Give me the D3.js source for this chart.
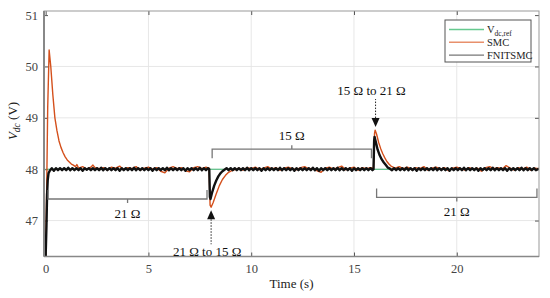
<!DOCTYPE html>
<html>
<head>
<meta charset="utf-8">
<script src="https://cdn.jsdelivr.net/npm/d3@7"></script>
<style>
  body { margin: 0; background: #fff; }
  svg text { font-family: "Liberation Serif", "DejaVu Serif", serif; }
</style>
</head>
<body>
<div id="chart"></div>
<script>
// data: [time (s), Vdc (V)]
var refData = [[0, 48], [24, 48]];

var smcData = [
  [0.00, 46.30], [0.05, 47.60], [0.10, 49.20], [0.17, 50.32], [0.25, 50.00], [0.35, 49.45],
  [0.45, 49.00], [0.55, 48.75], [0.65, 48.55], [0.75, 48.42], [0.85, 48.32], [0.95, 48.24],
  [1.05, 48.18], [1.15, 48.14], [1.25, 48.10], [1.35, 48.08], [1.45, 48.05], [1.52, 48.09],
  [1.60, 48.02], [1.80, 48.05], [2.00, 48.00], [2.20, 48.04], [2.30, 48.08], [2.40, 48.03],
  [2.60, 48.01], [2.80, 48.03], [3.00, 47.98], [3.20, 48.04], [3.40, 48.02], [3.60, 48.06],
  [3.80, 47.99], [4.00, 48.03], [4.20, 48.01], [4.40, 48.05], [4.60, 47.98], [4.80, 48.02],
  [5.00, 48.04], [5.20, 48.00], [5.40, 48.03], [5.60, 47.96], [5.80, 47.93], [6.00, 48.02],
  [6.20, 48.05], [6.40, 48.01], [6.60, 48.03], [6.80, 47.97], [7.00, 47.95], [7.20, 48.03],
  [7.40, 48.05], [7.60, 48.01], [7.80, 48.04], [7.95, 48.02],
  [8.00, 47.30], [8.05, 47.26], [8.15, 47.35], [8.30, 47.52], [8.45, 47.68], [8.60, 47.80],
  [8.75, 47.88], [8.90, 47.94], [9.05, 47.97], [9.20, 47.99], [9.40, 48.02], [9.60, 47.98],
  [9.80, 48.03], [10.0, 48.01], [10.2, 48.04], [10.4, 47.99], [10.6, 48.02], [10.8, 48.05],
  [11.0, 48.00], [11.2, 48.03], [11.4, 47.98], [11.6, 48.02], [11.8, 48.04], [12.0, 48.01],
  [12.2, 47.99], [12.4, 48.03], [12.6, 48.05], [12.8, 48.00], [13.0, 48.02], [13.2, 47.97],
  [13.4, 47.94], [13.6, 48.02], [13.8, 48.04], [14.0, 48.00], [14.2, 48.03], [14.4, 48.06],
  [14.6, 47.99], [14.8, 48.02], [15.0, 48.04], [15.2, 47.98], [15.4, 48.03], [15.6, 48.01],
  [15.8, 48.03], [15.95, 48.02],
  [16.00, 48.70], [16.03, 48.76], [16.10, 48.68], [16.20, 48.52], [16.30, 48.40], [16.40, 48.30],
  [16.50, 48.22], [16.60, 48.15], [16.70, 48.10], [16.80, 48.06], [16.90, 48.04], [17.00, 48.02],
  [17.2, 48.05], [17.4, 48.01], [17.6, 48.04], [17.8, 47.99], [18.0, 48.03], [18.2, 48.01],
  [18.4, 48.05], [18.6, 47.98], [18.8, 48.02], [19.0, 48.04], [19.2, 48.00], [19.4, 48.03],
  [19.6, 47.97], [19.8, 48.02], [20.0, 48.04], [20.2, 48.01], [20.4, 47.98], [20.6, 48.03],
  [20.8, 48.00], [21.0, 48.02], [21.2, 47.96], [21.4, 48.03], [21.6, 48.05], [21.8, 48.01],
  [22.0, 48.03], [22.2, 48.00], [22.4, 48.07], [22.6, 48.02], [22.8, 47.98], [23.0, 48.03],
  [23.2, 48.00], [23.4, 48.04], [23.6, 47.98], [23.8, 48.02], [24.0, 48.01]
];

var fnitsmcData = [
  [0.00, 46.30], [0.04, 46.90], [0.07, 47.50], [0.10, 47.78], [0.14, 47.92], [0.20, 47.97],
  [0.30, 48.02], [0.40, 47.97], [0.50, 48.02], [0.60, 47.98], [0.70, 48.02], [0.80, 47.98],
  [0.90, 48.02], [1.00, 47.98], [1.10, 48.03], [1.20, 47.98], [1.30, 48.02], [1.40, 47.98],
  [1.50, 48.02], [1.60, 47.98], [1.70, 48.02], [1.80, 47.97], [1.90, 48.02], [2.00, 47.99],
  [2.10, 48.02], [2.20, 47.98], [2.30, 48.02], [2.40, 47.98], [2.50, 48.02], [2.60, 47.98],
  [2.70, 48.03], [2.80, 47.98], [2.90, 48.02], [3.00, 47.98], [3.10, 48.02], [3.20, 47.98],
  [3.30, 48.02], [3.40, 47.98], [3.50, 48.02], [3.60, 47.97], [3.70, 48.02], [3.80, 47.98],
  [3.90, 48.02], [4.00, 47.98], [4.10, 48.02], [4.20, 47.98], [4.30, 48.03], [4.40, 47.98],
  [4.50, 48.02], [4.60, 47.98], [4.70, 48.02], [4.80, 47.98], [4.90, 48.02], [5.00, 47.98],
  [5.10, 48.02], [5.20, 47.97], [5.30, 48.02], [5.40, 47.98], [5.50, 48.02], [5.60, 47.98],
  [5.70, 48.02], [5.80, 47.98], [5.90, 48.03], [6.00, 47.98], [6.10, 48.02], [6.20, 47.98],
  [6.30, 48.02], [6.40, 47.98], [6.50, 48.02], [6.60, 47.98], [6.70, 48.02], [6.80, 47.97],
  [6.90, 48.02], [7.00, 47.98], [7.10, 48.02], [7.20, 47.98], [7.30, 48.02], [7.40, 47.98],
  [7.50, 48.03], [7.60, 47.98], [7.70, 48.02], [7.80, 47.98], [7.90, 48.02], [7.96, 48.00],
  [7.99, 47.46], [8.02, 47.42], [8.10, 47.55], [8.20, 47.68], [8.30, 47.78], [8.40, 47.86],
  [8.50, 47.92], [8.60, 47.96], [8.70, 47.99], [8.80, 48.02], [8.90, 47.98], [9.00, 48.02],
  [9.10, 47.98], [9.20, 48.02], [9.30, 47.98], [9.40, 48.02], [9.50, 47.98], [9.60, 48.02],
  [9.70, 47.98], [9.80, 48.03], [9.90, 47.98], [10.0, 48.02], [10.1, 47.98], [10.2, 48.02],
  [10.3, 47.98], [10.4, 48.02], [10.5, 47.97], [10.6, 48.02], [10.7, 47.98], [10.8, 48.02],
  [10.9, 47.98], [11.0, 48.02], [11.1, 47.98], [11.2, 48.02], [11.3, 47.98], [11.4, 48.03],
  [11.5, 47.98], [11.6, 48.02], [11.7, 47.98], [11.8, 48.02], [11.9, 47.98], [12.0, 48.02],
  [12.1, 47.97], [12.2, 48.02], [12.3, 47.98], [12.4, 48.02], [12.5, 47.98], [12.6, 48.02],
  [12.7, 47.98], [12.8, 48.02], [12.9, 47.98], [13.0, 48.03], [13.1, 47.98], [13.2, 48.02],
  [13.3, 47.97], [13.4, 48.02], [13.5, 47.98], [13.6, 48.02], [13.7, 47.98], [13.8, 48.02],
  [13.9, 47.98], [14.0, 48.02], [14.1, 47.98], [14.2, 48.03], [14.3, 47.98], [14.4, 48.02],
  [14.5, 47.98], [14.6, 48.02], [14.7, 47.98], [14.8, 48.02], [14.9, 47.97], [15.0, 48.02],
  [15.1, 47.98], [15.2, 48.02], [15.3, 47.98], [15.4, 48.02], [15.5, 47.98], [15.6, 48.02],
  [15.7, 47.98], [15.8, 48.02], [15.9, 47.98], [15.95, 48.00],
  [15.98, 48.55], [16.00, 48.63], [16.08, 48.50], [16.15, 48.38], [16.25, 48.27], [16.35, 48.19],
  [16.45, 48.13], [16.55, 48.08], [16.65, 48.03], [16.75, 48.01], [16.85, 47.98], [16.95, 48.02],
  [17.05, 47.98], [17.15, 48.02], [17.25, 47.98], [17.35, 48.02], [17.45, 47.98], [17.55, 48.03],
  [17.65, 47.98], [17.75, 48.02], [17.85, 47.98], [17.95, 48.02], [18.05, 47.97], [18.15, 48.02],
  [18.25, 47.98], [18.35, 48.02], [18.45, 47.98], [18.55, 48.02], [18.65, 47.98], [18.75, 48.02],
  [18.85, 47.98], [18.95, 48.03], [19.05, 47.98], [19.15, 48.02], [19.25, 47.98], [19.35, 48.02],
  [19.45, 47.98], [19.55, 48.02], [19.65, 47.97], [19.75, 48.02], [19.85, 47.98], [19.95, 48.02],
  [20.05, 47.98], [20.15, 48.02], [20.25, 47.98], [20.35, 48.03], [20.45, 47.98], [20.55, 48.02],
  [20.65, 47.98], [20.75, 48.02], [20.85, 47.98], [20.95, 48.02], [21.05, 47.97], [21.15, 48.02],
  [21.25, 47.98], [21.35, 48.02], [21.45, 47.98], [21.55, 48.02], [21.65, 47.98], [21.75, 48.03],
  [21.85, 47.98], [21.95, 48.02], [22.05, 47.98], [22.15, 48.02], [22.25, 47.98], [22.35, 48.02],
  [22.45, 47.97], [22.55, 48.02], [22.65, 47.98], [22.75, 48.02], [22.85, 47.98], [22.95, 48.02],
  [23.05, 47.98], [23.15, 48.03], [23.25, 47.98], [23.35, 48.02], [23.45, 47.98], [23.55, 48.02],
  [23.65, 47.98], [23.75, 48.02], [23.85, 47.98], [24.00, 48.01]
];

var xTicks = [0, 5, 10, 15, 20];
var yTicks = [47, 48, 49, 50, 51];

// load brackets: [from t, to t, at V, label, side]
var brackets = [
  [0.12, 7.85, 47.42, "21 \u03a9", "below"],
  [8.1, 15.85, 48.39, "15 \u03a9", "above"],
  [16.1, 23.9, 47.45, "21 \u03a9", "below"]
];

var svgWidth = 550;
var svgHeight = 298;
var serif = "'Liberation Serif', 'DejaVu Serif', serif";

var margin = { top: 11, right: 11, bottom: 41.5, left: 44 };
var chartWidth = svgWidth - margin.left - margin.right;
var chartHeight = svgHeight - margin.top - margin.bottom;

var svg = d3.select("#chart")
  .append("svg")
  .attr("width", svgWidth)
  .attr("height", svgHeight)
  .style("font-family", serif);

var chartGroup = svg.append("g")
  .attr("transform", `translate(${margin.left}, ${margin.top})`);

var xScale = d3.scaleLinear()
  .domain([-0.08, 24])
  .range([0, chartWidth]);

var yScale = d3.scaleLinear()
  .domain([46.3, 51.08])
  .range([chartHeight, 0]);

// grid
chartGroup.append("g")
  .selectAll("line")
  .data(xTicks.filter(d => d > 0))
  .enter()
  .append("line")
  .attr("x1", d => xScale(d)).attr("x2", d => xScale(d))
  .attr("y1", 0).attr("y2", chartHeight)
  .attr("stroke", "#e4e4e4").attr("stroke-width", 0.9);

chartGroup.append("g")
  .selectAll("line")
  .data(yTicks.filter(d => d < 51))
  .enter()
  .append("line")
  .attr("x1", 0).attr("x2", chartWidth)
  .attr("y1", d => yScale(d)).attr("y2", d => yScale(d))
  .attr("stroke", "#e4e4e4").attr("stroke-width", 0.9);

// axes (ticks pointing inward)
var xAxis = d3.axisBottom(xScale).tickValues(xTicks).tickSize(-4).tickPadding(8).tickFormat(d3.format("d"));
var yAxis = d3.axisLeft(yScale).tickValues(yTicks).tickSize(-4).tickPadding(6).tickFormat(d3.format("d"));

var xAxisG = chartGroup.append("g")
  .attr("transform", `translate(0, ${chartHeight})`)
  .call(xAxis);
var yAxisG = chartGroup.append("g")
  .call(yAxis);
var xTop = chartGroup.append("g")
  .call(d3.axisTop(xScale).tickValues(xTicks).tickSize(-4).tickFormat(""));
var yRight = chartGroup.append("g")
  .attr("transform", `translate(${chartWidth}, 0)`)
  .call(d3.axisRight(yScale).tickValues(yTicks).tickSize(-4).tickFormat(""));

[xAxisG, yAxisG, xTop, yRight].forEach(function(g) {
  g.attr("font-family", serif).attr("font-size", 12.5);
  g.select(".domain").remove();
  g.selectAll(".tick line").attr("stroke", "#555");
  g.selectAll(".tick text").attr("fill", "#444");
});

// lines
svg.append("defs").append("clipPath").attr("id", "clip")
  .append("rect").attr("width", chartWidth).attr("height", chartHeight);

var line = d3.line()
  .x(d => xScale(d[0]))
  .y(d => yScale(d[1]));

var plotG = chartGroup.append("g").attr("clip-path", "url(#clip)");

plotG.append("path").datum(refData)
  .attr("d", line).attr("fill", "none")
  .attr("stroke", "#3db672").attr("stroke-width", 1.1);

plotG.append("path").datum(smcData)
  .attr("d", line).attr("fill", "none")
  .attr("stroke", "#d4501c").attr("stroke-width", 1.4).attr("stroke-linejoin", "round");

plotG.append("path").datum(fnitsmcData)
  .attr("d", line).attr("fill", "none")
  .attr("stroke", "#111").attr("stroke-width", 2.4).attr("stroke-linejoin", "round");

// frame
chartGroup.append("rect")
  .attr("width", chartWidth).attr("height", chartHeight)
  .attr("fill", "none").attr("stroke", "#999").attr("stroke-width", 1);
chartGroup.append("line")
  .attr("x1", 0).attr("x2", 0).attr("y1", 0).attr("y2", chartHeight)
  .attr("stroke", "#888").attr("stroke-width", 2);
chartGroup.append("line")
  .attr("x1", 0).attr("x2", chartWidth).attr("y1", chartHeight).attr("y2", chartHeight)
  .attr("stroke", "#888").attr("stroke-width", 1.4);

// brackets
brackets.forEach(function(b) {
  var x1 = xScale(b[0]), x2 = xScale(b[1]), yb = yScale(b[2]);
  var xm = (x1 + x2) / 2;
  var dir = b[4] === "below" ? -1 : 1; // ends point toward the curve
  chartGroup.append("path")
    .attr("d", `M${x1},${yb + dir * 9} L${x1},${yb} L${x2},${yb} L${x2},${yb + dir * 9} M${xm},${yb} L${xm},${yb - dir * 4}`)
    .attr("fill", "none").attr("stroke", "#777").attr("stroke-width", 1.3);
  chartGroup.append("text")
    .attr("x", xm)
    .attr("y", b[4] === "below" ? yb + 19 : yb - 9)
    .attr("text-anchor", "middle")
    .attr("fill", "#111")
    .style("font-size", "13px")
    .text(b[3]);
});

// load-change arrows
function arrow(t, tipV, dir, len, label) {
  var ax = xScale(t), ty = yScale(tipV);
  var by = ty + dir * 9;
  chartGroup.append("line")
    .attr("x1", ax).attr("x2", ax).attr("y1", by).attr("y2", by + dir * len)
    .attr("stroke", "#222").attr("stroke-width", 1).attr("stroke-dasharray", "1.5,1.5");
  chartGroup.append("path")
    .attr("d", `M${ax},${ty} L${ax - 4},${by} L${ax + 4},${by} Z`)
    .attr("fill", "#111");
  chartGroup.append("text")
    .attr("x", ax - 4)
    .attr("y", dir > 0 ? by + len + 12 : by - len - 4)
    .attr("text-anchor", "middle")
    .attr("fill", "#111")
    .style("font-size", "13px")
    .text(label);
}
arrow(8.05, 47.2, 1, 25, "21 \u03a9 to 15 \u03a9");
arrow(16.05, 48.82, -1, 19, "15 \u03a9 to 21 \u03a9");

// legend
var legend = svg.append("g").attr("transform", "translate(445, 20)");
legend.append("rect")
  .attr("width", 86).attr("height", 42)
  .attr("fill", "#fff").attr("stroke", "#555").attr("stroke-width", 1);
var legendItems = [["#66c98f", "ref"], ["#e8906c", "SMC"], ["#777", "FNITSMC"]];
legendItems.forEach(function(it, i) {
  var ly = 9.5 + i * 12.8;
  legend.append("line")
    .attr("x1", 4).attr("x2", 39).attr("y1", ly).attr("y2", ly)
    .attr("stroke", it[0]).attr("stroke-width", 1.4);
  var t = legend.append("text")
    .attr("x", 42).attr("y", ly + 3.5)
    .attr("fill", "#222")
    .style("font-size", "10.5px");
  if (it[1] === "ref") {
    t.append("tspan").text("V");
    t.append("tspan").attr("dy", 2.5).style("font-size", "7.5px").text("dc,ref");
  } else {
    t.text(it[1]);
  }
});

// axis labels
chartGroup.append("text")
  .attr("x", chartWidth / 2)
  .attr("y", chartHeight + 31)
  .attr("text-anchor", "middle")
  .attr("fill", "#222")
  .style("font-size", "13px")
  .text("Time (s)");

var yLab = svg.append("text")
  .attr("transform", "translate(17, 121) rotate(-90)")
  .attr("text-anchor", "middle")
  .attr("fill", "#222")
  .style("font-size", "13px");
yLab.append("tspan").style("font-style", "italic").text("V");
yLab.append("tspan").attr("dy", 3).style("font-style", "italic").style("font-size", "9.5px").text("dc");
yLab.append("tspan").attr("dy", -3).text(" (V)");
</script>
</body>
</html>
